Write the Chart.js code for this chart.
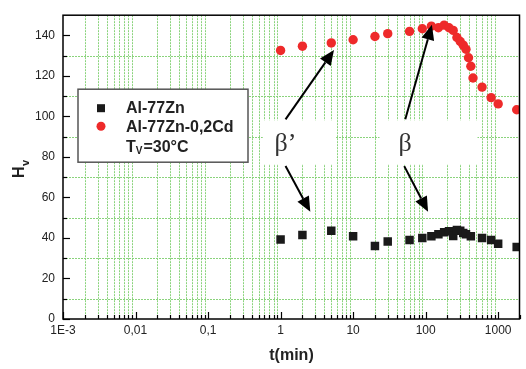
<!DOCTYPE html>
<html><head><meta charset="utf-8">
<script src="https://cdn.jsdelivr.net/npm/chart.js@4.4.0/dist/chart.umd.min.js"></script>
<style>html,body{margin:0;padding:0;background:#fff;}#wrap{width:526px;height:369px;}</style>
</head><body><div id="wrap"><canvas id="c" width="526" height="369"></canvas></div>
<script>
// ---- data ----
const tBlack  = [1,2,5,10,20,30,60,90,120,150,180,210,240,270,300,330,360,420,600,800,1000,1800];
const hvBlack = [39.3,41.5,43.6,40.9,36.1,38.3,39.0,40.0,40.9,41.8,42.8,43.3,41.0,44.0,43.6,42.5,41.8,40.8,40.0,39.0,37.2,35.5];
const tRed    = [1,2,5,10,20,30,60,90,120,150,180,210,240,270,300,330,360,390,420,450,600,800,1000,1800];
const hvRed   = [132.6,134.7,136.3,137.9,139.5,140.9,142.0,143.3,144.6,143.8,145.1,143.8,142.5,139.0,137.0,135.2,133.2,129.0,124.8,119.0,114.5,109.3,106.2,103.3];
const seriesNames = ['Al-77Zn','Al-77Zn-0,2Cd'];
const xTickValues = [0.001,0.01,0.1,1,10,100,1000];
const xTickLabels = ['1E-3','0,01','0,1','1','10','100','1000'];
const yTickValues = [0,20,40,60,80,100,120,140];
const yMinorValues = [10,30,50,70,90,110,130];
const xMin = 0.001, xMax = 2000, yMin = 0, yMax = 150;
// annotations in data coordinates: [t, Hv]
const arrows = [
  {from:[1.17,98.6], to:[5.45,132.8]},
  {from:[52.4,98.6], to:[122,145.3]},
  {from:[1.17,75.5], to:[2.57,52.9]},
  {from:[50.7,75.5], to:[108,52.9]}
];
const phaseLabels = [{text:'β’', at:[1.17,86.5]},{text:'β', at:[52,86.5]}];
const whiteBoxes = [{x0:0.568,x1:5.63,y0:76.5,y1:98.1},{x0:23.1,x1:519,y0:76.5,y1:98.1}];

const custom = {
  id:'custom',
  beforeDatasetsDraw(chart){
    const {ctx, chartArea:a, scales:{x,y}} = chart;
    ctx.save();
    ctx.beginPath(); ctx.rect(a.left,a.top,a.right-a.left,a.bottom-a.top); ctx.clip();
    ctx.strokeStyle='#8ad37c'; ctx.lineWidth=1; ctx.setLineDash([2,1]);
    for(let d=-3; d<=3; d++){
      for(let m=2;m<=9;m++){
        const v=m*Math.pow(10,d);
        if(v>=xMax) continue;
        const px=Math.round(x.getPixelForValue(v))+0.5;
        ctx.beginPath(); ctx.moveTo(px,a.top); ctx.lineTo(px,a.bottom); ctx.stroke();
      }
    }
    yMinorValues.forEach(v=>{
      const py=Math.round(y.getPixelForValue(v))+0.5;
      ctx.beginPath(); ctx.moveTo(a.left,py); ctx.lineTo(a.right,py); ctx.stroke();
    });
    ctx.setLineDash([]);
    ctx.fillStyle='#fff';
    whiteBoxes.forEach(b=>{
      const x0=x.getPixelForValue(b.x0), x1=x.getPixelForValue(b.x1);
      const y0=y.getPixelForValue(b.y1), y1=y.getPixelForValue(b.y0);
      ctx.fillRect(x0,y0,x1-x0,y1-y0);
    });
    ctx.restore();
  },
  afterDraw(chart){
    const {ctx, chartArea:a, scales:{x,y}} = chart;
    ctx.save();
    // ticks inward
    ctx.strokeStyle='#000'; ctx.lineWidth=1.2;
    for(let d=-3; d<=3; d++){
      for(let m=1;m<=9;m++){
        const v=m*Math.pow(10,d);
        if(v>xMax) continue;
        const px=Math.round(x.getPixelForValue(v))+0.5;
        const len = m===1?7:4;
        ctx.beginPath(); ctx.moveTo(px,a.bottom); ctx.lineTo(px,a.bottom-len); ctx.stroke();
      }
    }
    yTickValues.forEach(v=>{const py=Math.round(y.getPixelForValue(v))+0.5;ctx.beginPath();ctx.moveTo(a.left,py);ctx.lineTo(a.left+7,py);ctx.stroke();});
    yMinorValues.forEach(v=>{const py=Math.round(y.getPixelForValue(v))+0.5;ctx.beginPath();ctx.moveTo(a.left,py);ctx.lineTo(a.left+4,py);ctx.stroke();});
    // frame
    ctx.lineWidth=1.5;
    ctx.strokeRect(a.left,a.top,a.right-a.left-0.5,a.bottom-a.top);
    // arrows
    ctx.lineWidth=2; ctx.fillStyle='#000';
    arrows.forEach(ar=>{
      const x0=x.getPixelForValue(ar.from[0]), y0=y.getPixelForValue(ar.from[1]);
      const x1=x.getPixelForValue(ar.to[0]), y1=y.getPixelForValue(ar.to[1]);
      const ang=Math.atan2(y1-y0,x1-x0), L=15, W=6.5;
      const bx=x1-L*Math.cos(ang), by=y1-L*Math.sin(ang);
      ctx.beginPath(); ctx.moveTo(x0,y0); ctx.lineTo(bx,by); ctx.stroke();
      ctx.beginPath(); ctx.moveTo(x1,y1);
      ctx.lineTo(bx+W*Math.sin(ang), by-W*Math.cos(ang));
      ctx.lineTo(bx-W*Math.sin(ang), by+W*Math.cos(ang));
      ctx.closePath(); ctx.fill();
    });
    // phase labels
    ctx.fillStyle='#333'; ctx.font='26px "Liberation Serif", serif';
    ctx.textAlign='center'; ctx.textBaseline='middle';
    phaseLabels.forEach(p=>{
      ctx.fillText(p.text, x.getPixelForValue(p.at[0]), y.getPixelForValue(p.at[1]));
    });
    // axis titles
    ctx.fillStyle='#222';
    ctx.font='bold 16px "Liberation Sans", Arial, sans-serif';
    ctx.textAlign='center'; ctx.textBaseline='middle';
    ctx.fillText('t(min)', (a.left+a.right)/2, 356);
    ctx.save();
    ctx.translate(20, 172); ctx.rotate(-Math.PI/2);
    ctx.textAlign='left';
    ctx.fillText('H', -6, 0);
    ctx.font='bold 11px "Liberation Sans", Arial, sans-serif';
    ctx.fillText('v', 6, 6);
    ctx.restore();
    // legend
    const lx=a.left+15, ly=a.top+74, lw=170, lh=73;
    ctx.fillStyle='#fff'; ctx.fillRect(lx,ly,lw,lh);
    ctx.strokeStyle='#555'; ctx.lineWidth=1.5; ctx.strokeRect(lx,ly,lw,lh);
    const mx=lx+23;
    ctx.fillStyle='#1a1a1a'; ctx.fillRect(mx-4,ly+15,8,8);
    ctx.fillStyle='#ee2a2a'; ctx.beginPath(); ctx.arc(mx,ly+37,4.5,0,Math.PI*2); ctx.fill();
    ctx.fillStyle='#222'; ctx.font='bold 16px "Liberation Sans", Arial, sans-serif';
    ctx.textAlign='left'; ctx.textBaseline='middle';
    ctx.fillText(seriesNames[0], lx+48, ly+19);
    ctx.fillText(seriesNames[1], lx+48, ly+38);
    ctx.fillText('T', lx+48, ly+58);
    const tw=ctx.measureText('T').width;
    ctx.font='bold 10px "Liberation Sans", Arial, sans-serif';
    ctx.fillText('V', lx+48+tw, ly+62);
    const vw=ctx.measureText('V').width;
    ctx.font='bold 16px "Liberation Sans", Arial, sans-serif';
    ctx.fillText('=30°C', lx+48+tw+vw+1, ly+58);
    ctx.restore();
  }
};

new Chart(document.getElementById('c'), {
  type:'scatter',
  data:{datasets:[
    {label:seriesNames[0], data:tBlack.map((t,i)=>({x:t,y:hvBlack[i]})), pointStyle:'rect', pointRadius:6, backgroundColor:'#1a1a1a', borderColor:'#1a1a1a', borderWidth:0},
    {label:seriesNames[1], data:tRed.map((t,i)=>({x:t,y:hvRed[i]})), pointStyle:'circle', pointRadius:4.7, backgroundColor:'#ee2a2a', borderColor:'#ee2a2a', borderWidth:0}
  ]},
  options:{
    responsive:false, animation:false, devicePixelRatio:1,
    layout:{padding:{top:7,right:1,left:0,bottom:0}},
    plugins:{legend:{display:false}, tooltip:{enabled:false}},
    scales:{
      x:{type:'logarithmic', min:xMin, max:xMax,
        afterBuildTicks(s){ s.ticks = xTickValues.map(v=>({value:v})); },
        afterFit(s){ s.height=50; },
        grid:{display:false, drawTicks:false}, border:{display:false},
        ticks:{padding:4, maxRotation:0, autoSkip:false, color:'#222', font:{family:'"Liberation Sans", Arial, sans-serif', size:12},
          callback(v){ const i=xTickValues.findIndex(t=>Math.abs(Math.log10(t)-Math.log10(v))<1e-6); return i>=0?xTickLabels[i]:''; }}
      },
      y:{type:'linear', min:yMin, max:yMax,
        afterBuildTicks(s){ s.ticks = yTickValues.map(v=>({value:v})); },
        afterFit(s){ s.width=63; },
        grid:{display:false, drawTicks:false}, border:{display:false},
        ticks:{padding:8, color:'#222', font:{family:'"Liberation Sans", Arial, sans-serif', size:12}}
      }
    }
  },
  plugins:[custom]
});
</script></body></html>
